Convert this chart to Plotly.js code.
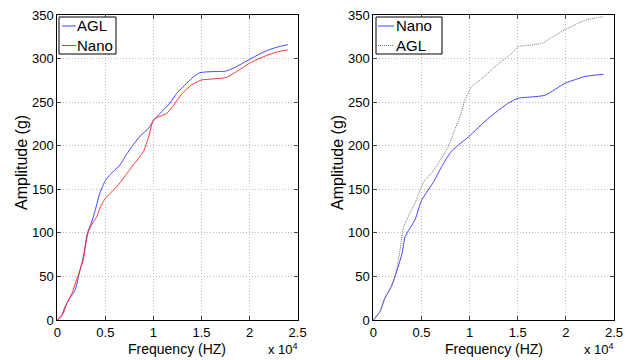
<!DOCTYPE html>
<html><head><meta charset="utf-8">
<script src="https://cdn.plot.ly/plotly-3.0.1.min.js"></script>
<style>html,body{margin:0;padding:0;background:#fff}#c{width:635px;height:360px}</style>
</head><body><div id="c"></div>
<script>
// Frequency values in units of 1e4 Hz, amplitude in g
const leftAglX = [0,0.04,0.08,0.13,0.184,0.236,0.27,0.288,0.312,0.35,0.385,0.444,0.5,0.55,0.652,0.72,0.79,0.87,0.95,1.0,1.068,1.172,1.242,1.346,1.415,1.485,1.6,1.75,1.85,2.0,2.1,2.2,2.3,2.397];
const leftAglY = [0,4,15,25,34,57,72,84,99.5,110,122,146,160,167,178,190,201,212,220,228.7,237,249,260,271.6,279,283.8,285,285.5,290,299,305,310,313.5,316];
const leftNanoX = [0,0.062,0.098,0.15,0.2,0.27,0.3,0.323,0.36,0.41,0.45,0.5,0.618,0.687,0.79,0.895,0.95,1.0,1.05,1.138,1.2,1.3,1.4,1.5,1.6,1.762,1.85,2.0,2.1,2.2,2.3,2.397];
const leftNanoY = [0,7.7,19,30,46,69,90,101,110,118.6,130,139.6,153,162.6,178,193,210,229.5,233,237,245,260,270,275.4,276.5,278.5,284,294.6,300,304.5,308,310];
const rightNanoX = [0,0.07,0.12,0.18,0.225,0.3,0.33,0.433,0.5,0.606,0.64,0.71,0.814,0.987,1.195,1.4,1.506,1.65,1.785,1.99,2.1,2.2,2.39];
const rightNanoY = [0,9.6,25,37,49.7,77,95.6,115,137,155,161,176,194,210,231.5,248.7,254.5,256,258,271.6,276,279.5,282];
const rightAglX = [0,0.07,0.12,0.19,0.225,0.27,0.312,0.36,0.433,0.5,0.537,0.6,0.675,0.779,0.83,0.9,0.952,1.022,1.126,1.264,1.437,1.506,1.6,1.75,1.85,1.99,2.1,2.2,2.3,2.39];
const rightAglY = [0,10,25,38,50,75,105,118,134,153,160.7,168,180,199,214,233,252.5,268,277,290.7,306,313.7,315,317.6,324,333,339,344,346.5,348];
const xTicks = [0,0.5,1,1.5,2,2.5];
const xTickText = ['0','0.5','1','1.5','2','2.5'];
const yTicks = [0,50,100,150,200,250,300,350];
const xTitle = 'Frequency (HZ)';
const yTitle = 'Amplitude (g)';
const expText = 'x 10<sup>4</sup>';

const W = 635, H = 360;
const fam = 'Arial, Liberation Sans, sans-serif';
const tickFont = {family:fam, size:13, color:'#000'};
const blue = '#4444ff', red = '#ff3333', gray = '#777';
const spl = {shape:'spline', smoothing:0.6, width:1};
const series = [
  {x:leftAglX, y:leftAglY, name:'AGL', color:blue, dash:'solid', ax:1},
  {x:leftNanoX, y:leftNanoY, name:'Nano', color:red, dash:'solid', ax:1},
  {x:rightNanoX, y:rightNanoY, name:'Nano', color:blue, dash:'solid', ax:2},
  {x:rightAglX, y:rightAglY, name:'AGL', color:gray, dash:'1px,1px', ax:2}
];
const traces = series.map(s => ({x:s.x, y:s.y, name:s.name, mode:'lines',
  line:Object.assign({color:s.color, dash:s.dash}, spl),
  xaxis: s.ax===1?'x':'x2', yaxis: s.ax===1?'y':'y2', showlegend:false}));

// pixel geometry of the two panels
const panels = [
  {l:57.3, r:297.6, t:15, b:320, ytx:22, legBox:[59,116], legLine:[62,76], legText:77},
  {l:373.3, r:614, t:15, b:320, ytx:338, legBox:[376,442], legLine:[378,394], legText:395.5}
];
const px = v => v/W, py = v => 1 - v/H;
function xax(p, anchor){return {domain:[px(p.l),px(p.r)], anchor:anchor, range:[0,2.5], tickvals:xTicks, ticktext:xTickText,
  ticks:'inside', ticklen:4, mirror:'ticks', showline:true, linecolor:'#000', linewidth:1,
  showgrid:true, gridcolor:'#bbb', griddash:'1px,2px', zeroline:false, tickfont:tickFont};}
function yax(p, anchor){return {domain:[py(p.b),py(p.t)], anchor:anchor, range:[0,350], tickvals:yTicks,
  ticks:'inside', ticklen:4, mirror:'ticks', showline:true, linecolor:'#000', linewidth:1,
  showgrid:true, gridcolor:'#bbb', griddash:'1px,2px', zeroline:false, tickfont:tickFont};}

const annotations = [], shapes = [];
const rows = [26, 45.5];
panels.forEach((p, i) => {
  const cx = (p.l + p.r)/2;
  annotations.push({text:xTitle, xref:'paper', yref:'paper', x:px(cx), y:py(349), xanchor:'center', yanchor:'middle', showarrow:false, font:{family:fam, size:14, color:'#000'}});
  annotations.push({text:yTitle, xref:'paper', yref:'paper', x:px(p.ytx), y:py(163), textangle:-90, xanchor:'center', yanchor:'middle', showarrow:false, font:{family:fam, size:16, color:'#000'}});
  annotations.push({text:expText, xref:'paper', yref:'paper', x:px(p.r+2), y:py(359), xanchor:'right', yanchor:'bottom', showarrow:false, font:{family:fam, size:13, color:'#000'}});
  // legend box
  shapes.push({type:'rect', xref:'paper', yref:'paper', x0:px(p.legBox[0]), x1:px(p.legBox[1]), y0:py(54), y1:py(17), line:{color:'#000', width:1}, fillcolor:'#fff', layer:'above'});
  const ss = series.filter(s => s.ax === i+1);
  ss.forEach((s, k) => {
    shapes.push({type:'line', xref:'paper', yref:'paper', x0:px(p.legLine[0]), x1:px(p.legLine[1]), y0:py(rows[k]), y1:py(rows[k]), line:{color:s.color, width:1, dash:s.dash}, layer:'above'});
    annotations.push({text:s.name, xref:'paper', yref:'paper', x:px(p.legText), y:py(rows[k]), xanchor:'left', yanchor:'middle', showarrow:false, font:{family:fam, size:15, color:'#000'}, xshift:-2});
  });
});

const layout = {
  width:W, height:H, margin:{l:0,r:0,t:0,b:0}, paper_bgcolor:'#fff', plot_bgcolor:'#fff', font:tickFont,
  xaxis: xax(panels[0],'y'), yaxis: yax(panels[0],'x'),
  xaxis2: xax(panels[1],'y2'), yaxis2: yax(panels[1],'x2'),
  annotations: annotations, shapes: shapes, showlegend:false
};
Plotly.newPlot('c', traces, layout, {staticPlot:true, displayModeBar:false});
</script></body></html>
